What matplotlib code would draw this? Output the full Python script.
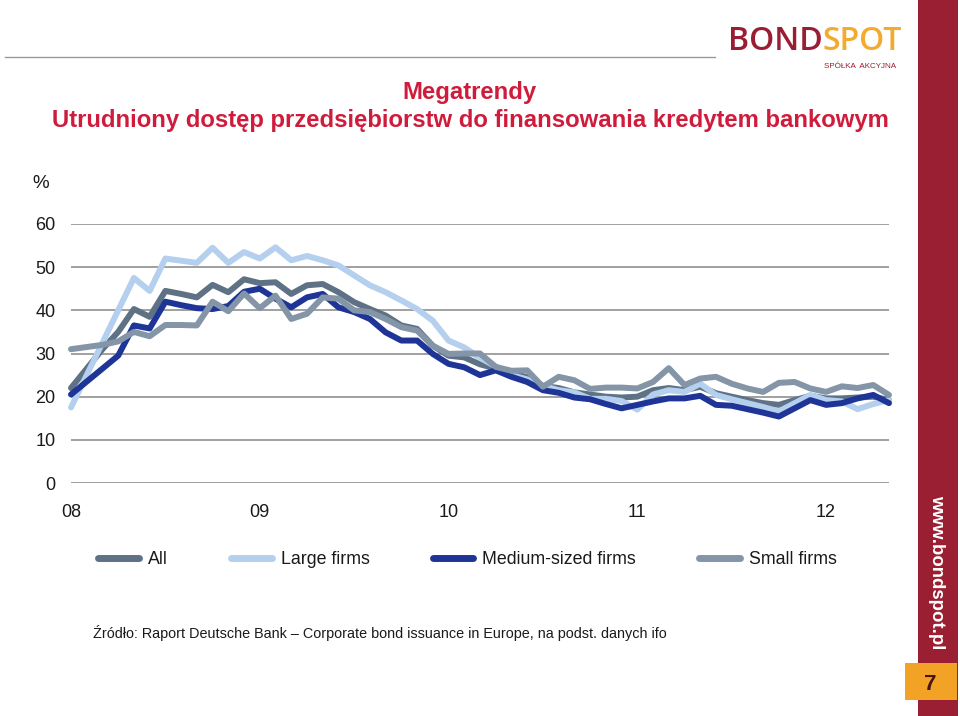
import matplotlib
matplotlib.use("Agg")
import matplotlib.pyplot as plt
from matplotlib.patches import Rectangle
from matplotlib.lines import Line2D

# ---------------- data ----------------
tick_positions = [0, 12, 24, 36, 48]
tick_labels = ["08", "09", "10", "11", "12"]
y_ticks = [0, 10, 20, 30, 40, 50, 60]

series_names = ["All", "Large firms", "Medium-sized firms", "Small firms"]

all_firms = [22, 26.5, 31, 35, 40.3, 38.5, 44.5, 43.8, 43, 45.9, 44.2, 47.2, 46.3,
             46.5, 43.8, 45.8, 46.1, 44.2, 41.9, 40.3, 38.8, 36.5, 35.7, 31.8, 29.5,
             29.1, 27.5, 26.5, 25.5, 24.5, 22.5, 22, 21, 20.5, 20, 19.8, 20, 21.5, 22,
             21.5, 22.3, 20.8, 20, 19.2, 18.5, 18.1, 19.2, 20.2, 19.6, 19.6, 19.8, 20, 19.2]

large_firms = [17.5, 25, 32.5, 40, 47.5, 44.5, 52, 51.5, 51, 54.5, 51, 53.5, 52,
               54.6, 51.6, 52.6, 51.6, 50.4, 48.1, 45.8, 44.2, 42.3, 40.3, 37.6, 33,
               31.4, 29, 27, 25, 24, 22.5, 21.5, 21, 19.5, 19.5, 19, 17, 20.5, 21.5,
               21.1, 23, 20.4, 19.4, 18.5, 17.6, 16.6, 18.5, 20.4, 19.2, 18.9, 17.1, 18.3, 19.2]

medium_firms = [20.5, 23.5, 26.5, 29.5, 36.5, 35.8, 42, 41.2, 40.5, 40.3, 41, 44.3, 45,
                42.7, 40.7, 43, 43.8, 40.7, 39.6, 38, 34.9, 33, 33, 29.9, 27.6,
                26.8, 25, 26.1, 24.6, 23.4, 21.5, 20.9, 19.8, 19.4, 18.3, 17.3, 18.1, 18.9, 19.6,
                19.6, 20.2, 18.1, 17.9, 17.1, 16.3, 15.4, 17.3, 19.2, 18.1, 18.5, 19.6, 20.4, 18.5]

small_firms = [31, 31.5, 32, 32.8, 35, 34, 36.6, 36.6, 36.5, 42, 39.8, 43.9, 40.5,
               43.4, 38, 39.2, 43, 42.7, 40, 39.6, 38, 36.1, 35.3, 31.8, 29.9,
               30, 30, 26.9, 26, 26.1, 22.3, 24.6, 23.8, 21.8, 22.1, 22.1, 21.9, 23.4, 26.6,
               22.7, 24.2, 24.6, 23, 21.9, 21.1, 23.2, 23.4, 21.9, 21.1, 22.4, 22, 22.7, 20.4]

colors = ["#5e7185", "#b4d0ee", "#1e3597", "#8395a7"]

# ---------------- figure ----------------
W, H = 960, 716
fig = plt.figure(figsize=(W / 100, H / 100), dpi=100)
fig.patch.set_facecolor("white")

def fx(px):
    return px / W

def fy(py):
    return 1 - py / H

arial = ["Liberation Sans", "DejaVu Sans"]

ax = fig.add_axes([fx(71), fy(483), fx(889) - fx(71), fy(224) - fy(483)])
x = list(range(len(all_firms)))
data = [all_firms, large_firms, medium_firms, small_firms]
for vals, c, name in zip(data, colors, series_names):
    ax.plot(x, vals, color=c, lw=4.3, solid_joinstyle="round",
            solid_capstyle="round", label=name, clip_on=False)

ax.set_xlim(0, 52)
ax.set_ylim(0, 60)
ax.set_yticks(y_ticks)
ax.set_xticks(tick_positions)
ax.set_xticklabels(tick_labels)
for s in ax.spines.values():
    s.set_visible(False)
ax.tick_params(axis="both", length=0)
ax.tick_params(axis="y", pad=11)
ax.tick_params(axis="x", pad=15)
for lab in ax.get_yticklabels() + ax.get_xticklabels():
    lab.set_fontfamily(arial)
    lab.set_fontsize(13)
    lab.set_color("#1a1a1a")
ax.set_axisbelow(True)
for yv in y_ticks:
    ax.axhline(yv, color="#a0a0a0", lw=1.4, zorder=0.5)

fig.text(fx(41), fy(184), "%", ha="center", va="center", fontsize=13.5,
         family=arial, color="#1a1a1a")

# legend
fs_leg = 12.8
handles = [Line2D([0], [0], color=c, lw=5, solid_capstyle="round") for c in colors]
leg = fig.legend(handles, series_names, loc="center left",
                 bbox_to_anchor=(fx(98), fy(560)), ncol=4, frameon=False,
                 borderpad=0, borderaxespad=0, handlelength=2.3,
                 handletextpad=0.5, columnspacing=3.55,
                 prop={"family": arial, "size": fs_leg})
for t in leg.get_texts():
    t.set_color("#1a1a1a")

# titles
title_red = "#cf1c3c"
fig.text(fx(469), fy(92), "Megatrendy", ha="center", va="center",
         fontsize=17.2, fontweight="bold", family=arial, color=title_red)
fig.text(fx(470), fy(121),
         "Utrudniony dostęp przedsiębiorstw do finansowania kredytem bankowym",
         ha="center", va="center", fontsize=17.2, fontweight="bold",
         family=arial, color=title_red)

# source
fig.text(fx(93), fy(633),
         "Źródło: Raport Deutsche Bank \u2013 Corporate bond issuance in Europe, na podst. danych ifo",
         ha="left", va="center", fontsize=10.4, family=arial, color="#1a1a1a")

# top rule
fig.add_artist(Line2D([fx(5), fx(715)], [fy(57), fy(57)], color="#9a9a9a", lw=1.0))

# logo
logo_font = ["Open Sans", "DejaVu Sans"]
t1 = fig.text(fx(728), fy(42), "BOND", ha="left", va="center", fontsize=23,
              fontweight="semibold", family=logo_font, color="#9b1d33")
fig.canvas.draw()
bb = t1.get_window_extent()
fig.text(bb.x1 / W, fy(42), "SPOT", ha="left", va="center", fontsize=23,
         fontweight="semibold", family=logo_font, color="#f2ab2e")
fig.text(fx(860), fy(67), "SPÓŁKA  AKCYJNA", ha="center", va="center",
         fontsize=5.8, family=arial, color="#9b1d33")

# sidebar
fig.add_artist(Rectangle((fx(918), 0), fx(958) - fx(918), 1, transform=fig.transFigure,
                         facecolor="#9b1f32", edgecolor="none"))
fig.add_artist(Rectangle((fx(905), fy(700)), fx(957) - fx(905), fy(663) - fy(700),
                         transform=fig.transFigure, facecolor="#f2a224", edgecolor="none"))
fig.text(fx(930), fy(685), "7", ha="center", va="center", fontsize=16,
         fontweight="bold", family=arial, color="#4a1212")
fig.text(fx(937), fy(572), "www.bondspot.pl", ha="center", va="center",
         fontsize=13.4, fontweight="bold", family=arial, color="white", rotation=-90)

fig.savefig("out.png", dpi=100)
